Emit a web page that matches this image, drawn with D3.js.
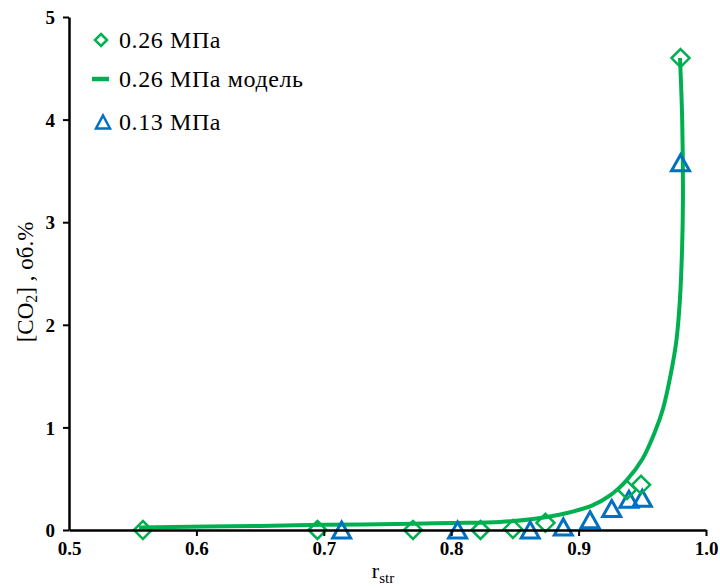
<!DOCTYPE html>
<html><head><meta charset="utf-8">
<script src="https://cdn.jsdelivr.net/npm/d3@7"></script>
</head><body style="margin:0">
<svg id="c" width="720" height="588" font-family="Liberation Serif"></svg>
<script>
const xTicks = [0.5, 0.6, 0.7, 0.8, 0.9, 1.0];
const yTicks = [0, 1, 2, 3, 4, 5];
const legendLabels = ["0.26 МПа", "0.26 МПа модель", "0.13 МПа"];

const x026 = [0.558, 0.695, 0.770, 0.823, 0.8485, 0.874, 0.938, 0.949, 0.980];
const y026 = [0.00, 0.00, 0.00, 0.00, 0.01, 0.07, 0.39, 0.44, 4.60];

const x013 = [0.714, 0.805, 0.862, 0.888, 0.909, 0.926, 0.9395, 0.950, 0.980];
const y013 = [0.00, 0.00, 0.00, 0.03, 0.10, 0.21, 0.30, 0.31, 3.58];

const xModel = [0.555, 0.65, 0.70, 0.77, 0.80, 0.8383, 0.8642, 0.8909, 0.9100, 0.925, 0.9380, 0.950, 0.960, 0.9662, 0.9725, 0.9768, 0.9795, 0.9812, 0.9819, 0.9813, 0.9796];
const yModel = [0.025, 0.04, 0.05, 0.06, 0.068, 0.078, 0.107, 0.166, 0.235, 0.34, 0.49, 0.69, 0.96, 1.18, 1.53, 1.85, 2.24, 2.729, 3.216, 4.0, 4.6];

const green = "#00b050", blue = "#0070c0";
const FONT = "Liberation Serif";
const svg = d3.select("#c");
const x = d3.scaleLinear().domain([0.5, 1.0]).range([69, 706]);
const y = d3.scaleLinear().domain([0, 5]).range([530, 17]);

const line = d3.line().x(d => x(d[0])).y(d => y(d[1])).curve(d3.curveCatmullRom.alpha(0.5));
svg.append("path").datum(xModel.map((v, i) => [v, yModel[i]]))
  .attr("d", line).attr("fill", "none").attr("stroke", green).attr("stroke-width", 4);

const diamond = (cx, cy, r) => `M${cx},${cy - r}L${cx + r},${cy}L${cx},${cy + r}L${cx - r},${cy}Z`;
const tri = (cx, cy, w, h) => `M${cx},${cy - h / 2}L${cx + w / 2},${cy + h / 2}L${cx - w / 2},${cy + h / 2}Z`;

svg.append("g").selectAll("path").data(x013.map((v, i) => [v, y013[i]])).join("path")
  .attr("d", d => tri(x(d[0]), y(d[1]), 18, 16))
  .attr("fill", "none").attr("stroke", blue).attr("stroke-width", 3);

svg.append("g").selectAll("path").data(x026.map((v, i) => [v, y026[i]])).join("path")
  .attr("d", d => diamond(x(d[0]), y(d[1]), 9))
  .attr("fill", "none").attr("stroke", green).attr("stroke-width", 2.5);

const xAxis = svg.append("g").attr("transform", "translate(0,530)")
  .call(d3.axisBottom(x).tickValues(xTicks).tickFormat(d3.format(".1f")).tickSize(6).tickSizeOuter(0));
const yAxis = svg.append("g").attr("transform", "translate(69,0)")
  .call(d3.axisLeft(y).tickValues(yTicks).tickFormat(d3.format("d")).tickSize(6).tickSizeOuter(0));
[xAxis, yAxis].forEach(a => {
  a.attr("font-family", FONT).attr("font-size", 19);
  a.select(".domain").attr("stroke", "#000").attr("stroke-width", 2.5);
  a.selectAll(".tick line").attr("stroke", "#000").attr("stroke-width", 2);
  a.selectAll("text").attr("font-family", FONT).attr("font-weight", "bold").attr("fill", "#000");
});
xAxis.selectAll(".tick").filter(d => d === 0.5).select("line").remove();
xAxis.selectAll("text").attr("dy", "0.95em").attr("y", 7);
yAxis.selectAll("text").attr("x", -14).attr("dy", "0.35em");

svg.append("text").attr("x", 383).attr("y", 578).attr("text-anchor", "middle")
  .attr("font-family", FONT).attr("font-size", 22).attr("fill", "#000")
  .html('r<tspan font-size="15" dy="5">str</tspan>');
svg.append("text").attr("transform", "translate(33,282) rotate(-90)").attr("text-anchor", "middle")
  .attr("font-family", FONT).attr("font-size", 23).attr("fill", "#000")
  .html('[CO<tspan font-size="16" dy="4">2</tspan><tspan dy="-4">] , об.%</tspan>');

const lg = svg.append("g");
const ly = [40, 79, 122];
lg.append("path").attr("d", diamond(101, ly[0], 6)).attr("fill", "none").attr("stroke", green).attr("stroke-width", 2.5);
lg.append("line").attr("x1", 92).attr("x2", 109).attr("y1", ly[1]).attr("y2", ly[1]).attr("stroke", green).attr("stroke-width", 4.5);
lg.append("path").attr("d", tri(103, ly[2], 14, 13)).attr("fill", "none").attr("stroke", blue).attr("stroke-width", 2.5);
legendLabels.forEach((t, i) => {
  lg.append("text").attr("x", 119).attr("y", ly[i]).attr("dy", "0.35em")
    .attr("font-family", FONT).attr("font-size", 24).attr("letter-spacing", 0.6).attr("fill", "#000").text(t);
});
</script>
</body></html>
